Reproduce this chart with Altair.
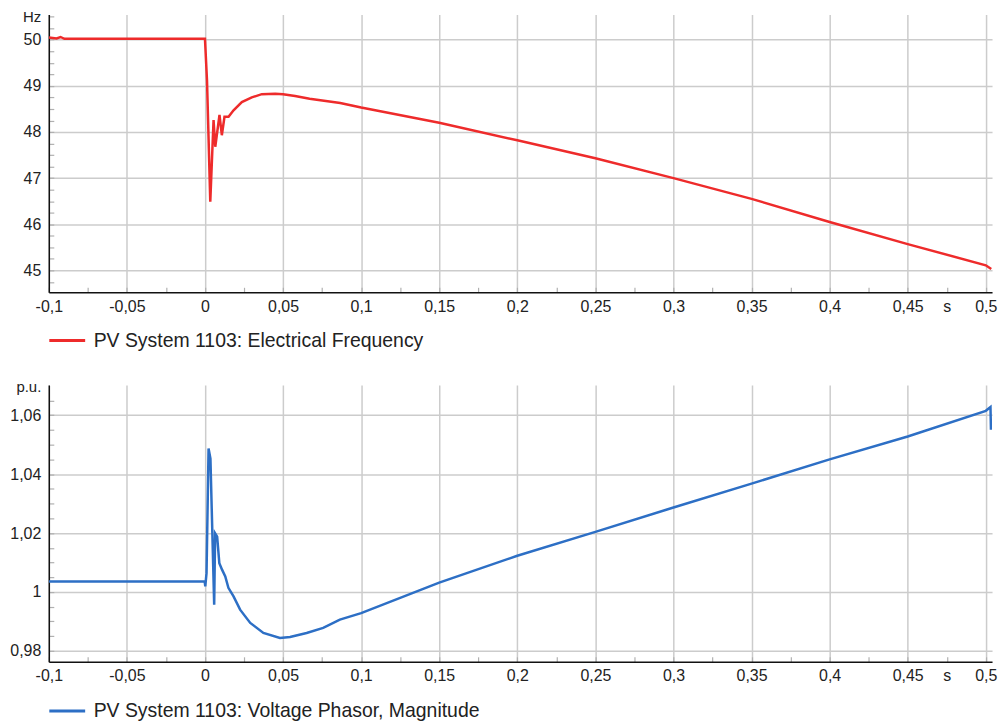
import altair as alt
import pandas as pd

# ---- data ----
freq_name = "PV System 1103: Electrical Frequency"
volt_name = "PV System 1103: Voltage Phasor, Magnitude"

freq_t = [-0.1, -0.095, -0.0925, -0.09, -0.05, 0.0, 0.0013, 0.0034, 0.0055, 0.0066,
          0.0093, 0.0108, 0.0125, 0.0151, 0.0183, 0.0236, 0.030, 0.0364, 0.045, 0.050,
          0.0577, 0.067, 0.0866, 0.1, 0.15, 0.2, 0.25, 0.3, 0.35, 0.4, 0.45, 0.5, 0.5035]
freq_v = [50.05, 50.03, 50.06, 50.02, 50.02, 50.02, 49.12, 46.49, 48.26, 47.68,
          48.37, 47.93, 48.33, 48.33, 48.47, 48.65, 48.75, 48.82, 48.83, 48.82,
          48.78, 48.72, 48.63, 48.53, 48.20, 47.82, 47.43, 47.00, 46.55, 46.05, 45.57, 45.11, 45.03]

volt_t = [-0.1, -0.0002, 0.0002, 0.001, 0.0023, 0.0035, 0.0059, 0.0065, 0.0078, 0.0092,
          0.011, 0.013, 0.015, 0.0183, 0.0225, 0.029, 0.0374, 0.048, 0.0545, 0.0651,
          0.0757, 0.0864, 0.1, 0.15, 0.2, 0.25, 0.3, 0.35, 0.4, 0.45, 0.5, 0.5030, 0.5033]
volt_v = [1.0036, 1.0036, 1.0019, 1.0064, 1.0487, 1.0453, 0.9957, 1.0199, 1.0188, 1.0098,
          1.0075, 1.0053, 1.0014, 0.9985, 0.9940, 0.9895, 0.9861, 0.9844, 0.9847, 0.9861,
          0.9878, 0.9906, 0.9928, 1.0032, 1.0123, 1.0204, 1.0287, 1.0368, 1.0450, 1.0528, 1.0615, 1.0628, 1.0551]

x_ticks = [round(-0.1 + i * 0.025, 3) for i in range(25)]
freq_ticks = [round(44.75 + i * 0.25, 2) for i in range(24)]
volt_ticks = [round(0.98 + i * 0.005, 3) for i in range(18)]

x_domain = [-0.1, 0.504]
freq_domain = [44.525, 50.55]
volt_domain = [0.9763, 1.0703]

RED = "#ee2b2b"
BLUE = "#2d6fc5"
FONT = "Liberation Sans"
TICK_FS = 16
W = 947

freq_df = pd.DataFrame({"t": freq_t, "v": freq_v, "series": freq_name})
volt_df = pd.DataFrame({"t": volt_t, "v": volt_v, "series": volt_name})

minor_x = "round(datum.value*1000) % 50 != 0"
x_label = ("abs(datum.value - 0.475) < 0.000001 ? 's' : (round(datum.value*1000) % 50 == 0 ? "
           "replace(toString(round(datum.value*100)/100), '.', ',') : '')")


def x_axis():
    return alt.Axis(
        values=x_ticks, title=None, labelExpr=x_label, labelFlush=False,
        grid=True, gridColor="#cccccc", gridWidth=1.5,
        gridOpacity={"condition": {"test": minor_x, "value": 0}, "value": 1},
        tickSize={"expr": "-5"}, tickColor="#b0b0b0", tickWidth=1.2,
        labelPadding=11, labelFontSize=TICK_FS, labelFont=FONT, labelColor="#222222",
        domainColor="#111111", domainWidth=1.5, labelOverlap=False,
    )


def y_axis(values, minor_test, label_expr, title):
    return alt.Axis(
        values=values, title=title, titleAngle=0, titleAlign="right",
        titleBaseline="alphabetic", titleX=-8, titleY=7, titleFontSize=15,
        titleFontWeight="normal", titleFont=FONT, titleColor="#222222",
        labelExpr=label_expr,
        grid=True, gridColor="#cccccc", gridWidth=1.5,
        gridOpacity={"condition": {"test": minor_test, "value": 0}, "value": 1},
        tickSize={"expr": "-5"}, tickColor="#b0b0b0", tickWidth=1.2,
        labelPadding=13, labelFontSize=TICK_FS, labelFont=FONT, labelColor="#222222",
        domainColor="#111111", domainWidth=1.5, labelOverlap=False,
    )


def legend():
    return alt.Legend(
        title=None, orient="none", legendX=-1, legendY=308, padding=0,
        symbolType="stroke", symbolSize=1296, symbolStrokeWidth=3,
        labelFontSize=19.5, labelFont=FONT, labelColor="#222222", labelOffset=7,
        labelLimit=0,
    )


freq_chart = alt.Chart(freq_df).mark_line(strokeWidth=2.5, clip=True).encode(
    x=alt.X("t:Q", scale=alt.Scale(domain=x_domain, nice=False, zero=False), axis=x_axis()),
    y=alt.Y("v:Q", scale=alt.Scale(domain=freq_domain, nice=False, zero=False),
            axis=y_axis(freq_ticks, "datum.value % 1 != 0",
                        "datum.value % 1 == 0 ? toString(datum.value) : ''", "Hz")),
    color=alt.Color("series:N", scale=alt.Scale(domain=[freq_name], range=[RED]), legend=legend()),
).properties(width=W, height=279)

volt_chart = alt.Chart(volt_df).mark_line(strokeWidth=2.5, clip=True).encode(
    x=alt.X("t:Q", scale=alt.Scale(domain=x_domain, nice=False, zero=False), axis=x_axis()),
    y=alt.Y("v:Q", scale=alt.Scale(domain=volt_domain, nice=False, zero=False),
            axis=y_axis(volt_ticks, "round(datum.value*1000) % 20 != 0",
                        "round(datum.value*1000) % 20 == 0 ? replace(toString(round(datum.value*100)/100), '.', ',') : ''",
                        "p.u.")),
    color=alt.Color("series:N", scale=alt.Scale(domain=[volt_name], range=[BLUE]), legend=legend()),
).properties(width=W, height=278)

chart = alt.vconcat(freq_chart, volt_chart, spacing=93, bounds="flush").resolve_scale(
    color="independent", x="independent", y="independent"
).resolve_legend(color="independent").properties(
    padding={"left": 9, "top": 7, "right": 5, "bottom": 0},
    background="white",
).configure_view(strokeWidth=0)

chart.save("out.html", embed_options={"renderer": "svg", "actions": False})
